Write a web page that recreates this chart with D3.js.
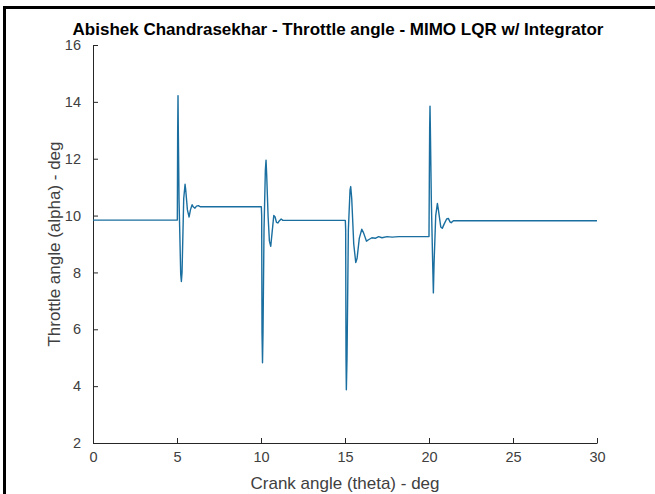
<!DOCTYPE html>
<html>
<head>
<meta charset="utf-8">
<script src="https://cdn.jsdelivr.net/npm/d3@7"></script>
<style>
  html, body { margin: 0; padding: 0; background: #fff; }
  svg { display: block; }
</style>
</head>
<body>
<svg id="chart" width="655" height="494"></svg>
<script>
// Throttle angle response vs crank angle (MIMO LQR with integrator)
const theta = [
  0, 5.02, 5.04, 5.06, 5.08, 5.12, 5.22, 5.26, 5.30, 5.40, 5.48, 5.52, 5.62, 5.72, 5.80, 5.90, 5.98, 6.07, 6.16, 6.27, 6.40,
  10.02, 10.04, 10.06, 10.09, 10.12, 10.18, 10.26, 10.30, 10.34, 10.42, 10.50, 10.58, 10.66, 10.76, 10.84, 10.92, 11.0, 11.1, 11.2, 11.3,
  15.02, 15.04, 15.06, 15.08, 15.12, 15.20, 15.30, 15.34, 15.40, 15.52, 15.64, 15.72, 15.85, 16.0, 16.1, 16.28, 16.4, 16.6, 16.8, 17.0, 17.2, 17.5, 17.8, 18.2,
  20.0, 20.02, 20.04, 20.06, 20.08, 20.14, 20.22, 20.26, 20.30, 20.40, 20.50, 20.56, 20.70, 20.79, 20.90, 21.05, 21.15, 21.25, 21.32, 21.45, 21.6,
  30
];
const alpha = [
  9.84, 9.84, 12.9, 14.22, 12.9, 10.6, 7.95, 7.68, 8.0, 10.6, 11.1, 10.9, 10.2, 9.95, 10.2, 10.38, 10.3, 10.26, 10.33, 10.35, 10.31,
  10.31, 10.0, 5.9, 4.82, 5.9, 9.5, 11.6, 11.95, 11.4, 10.0, 9.1, 8.92, 9.4, 10.0, 9.95, 9.76, 9.74, 9.82, 9.88, 9.83,
  9.83, 9.5, 5.0, 3.87, 5.0, 9.5, 10.9, 11.02, 10.6, 9.0, 8.35, 8.5, 9.2, 9.52, 9.4, 9.1, 9.15, 9.22, 9.2, 9.26, 9.22, 9.26, 9.24, 9.26,
  9.26, 11.3, 13.1, 13.85, 13.1, 10.5, 8.3, 7.28, 8.3, 10.0, 10.43, 10.2, 9.6, 9.55, 9.7, 9.88, 9.9, 9.78, 9.75, 9.82, 9.82,
  9.82
];
const xTicks = [0, 5, 10, 15, 20, 25, 30];
const yTicks = [2, 4, 6, 8, 10, 12, 14, 16];

const titleText = "Abishek Chandrasekhar - Throttle angle - MIMO LQR w/ Integrator";
const xLabel = "Crank angle (theta) - deg";
const yLabel = "Throttle angle (alpha) - deg";

const svg = d3.select("#chart");
const font = "'Liberation Sans', Arial, Helvetica, sans-serif";

// outer frame edges (top and left)
svg.append("rect").attr("x", 3).attr("y", 6).attr("width", 652).attr("height", 3).attr("fill", "#000");
svg.append("rect").attr("x", 3).attr("y", 6).attr("width", 3).attr("height", 488).attr("fill", "#000");

const plotL = 93, plotR = 597, plotT = 45, plotB = 443;
const x = d3.scaleLinear().domain([0, 30]).range([plotL, plotR]);
const y = d3.scaleLinear().domain([2, 16]).range([plotB, plotT]);

const axisColor = "#262626";
const tickColor = "#404040";

// x axis (ticks pointing inward)
const gx = svg.append("g").attr("transform", `translate(0,${plotB})`)
  .call(d3.axisBottom(x).tickValues(xTicks).tickSizeInner(-5).tickSizeOuter(0).tickPadding(9));
// y axis
const gy = svg.append("g").attr("transform", `translate(${plotL},0)`)
  .call(d3.axisLeft(y).tickValues(yTicks).tickSizeInner(-5).tickSizeOuter(0).tickPadding(12));

[gx, gy].forEach(g => {
  g.select(".domain").attr("stroke", axisColor).attr("stroke-width", 1);
  g.selectAll(".tick line").attr("stroke", axisColor);
  g.selectAll(".tick text").attr("fill", tickColor).attr("font-family", font).attr("font-size", 14.5);
});

// response curve
const line = d3.line().x((d, i) => x(theta[i])).y((d, i) => y(alpha[i]));
svg.append("path")
  .datum(alpha)
  .attr("d", line)
  .attr("fill", "none")
  .attr("stroke", "#1a6fa0")
  .attr("stroke-width", 1.4)
  .attr("stroke-linejoin", "round");

// title and labels
svg.append("text").attr("x", 338).attr("y", 35)
  .attr("text-anchor", "middle").attr("font-family", font).attr("font-weight", "bold")
  .attr("font-size", 17).attr("fill", "#000").text(titleText);

svg.append("text").attr("x", (plotL + plotR) / 2).attr("y", 489)
  .attr("text-anchor", "middle").attr("font-family", font)
  .attr("font-size", 17).attr("fill", tickColor).text(xLabel);

svg.append("text").attr("transform", `translate(60,${(plotT + plotB) / 2}) rotate(-90)`)
  .attr("text-anchor", "middle").attr("font-family", font)
  .attr("font-size", 17).attr("fill", tickColor).text(yLabel);
</script>
</body>
</html>
